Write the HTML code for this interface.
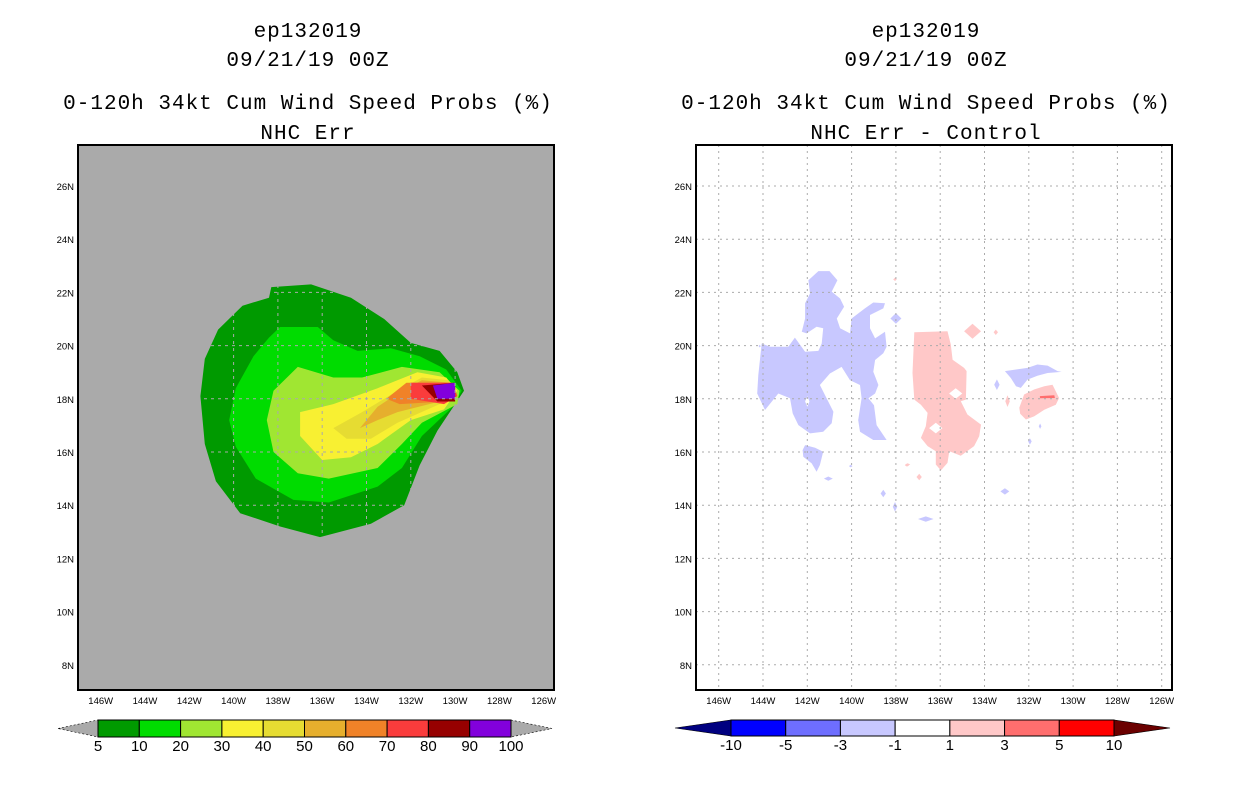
<!DOCTYPE html>
<html><head><meta charset="utf-8">
<style>
html,body{margin:0;padding:0;background:#fff;width:1236px;height:800px;overflow:hidden}
svg{display:block}
.t{font-family:"Liberation Mono",monospace;font-size:21px;fill:#000;letter-spacing:1px}
.tk{font-family:"Liberation Sans",sans-serif;font-size:9.5px;fill:#000}
.cb{font-family:"Liberation Sans",sans-serif;font-size:15px;fill:#000}
</style></head>
<body>
<svg id="svg" width="1236" height="800" viewBox="0 0 1236 800">
<g>
<text class="t" x="308" y="37" text-anchor="middle">ep132019</text>
<text class="t" x="308" y="66" text-anchor="middle">09/21/19 00Z</text>
<text class="t" x="308" y="109" text-anchor="middle">0-120h 34kt Cum Wind Speed Probs (%)</text>
<text class="t" x="308" y="139" text-anchor="middle">NHC Err</text>
</g>
<g>
<text class="t" x="926" y="37" text-anchor="middle">ep132019</text>
<text class="t" x="926" y="66" text-anchor="middle">09/21/19 00Z</text>
<text class="t" x="926" y="109" text-anchor="middle">0-120h 34kt Cum Wind Speed Probs (%)</text>
<text class="t" x="926" y="139" text-anchor="middle">NHC Err - Control</text>
</g>
</svg>
<script>
// ---- data ----
const lonTicks=[146,144,142,140,138,136,134,132,130,128,126];
const latTicks=[26,24,22,20,18,16,14,12,10,8];
const probLevels=[5,10,20,30,40,50,60,70,80,90];
const probColors=["#009a00","#00dc00","#a0e632","#f8f032","#e6dc32","#e6af2d","#f08228","#fa3c3c","#960000","#8200dc"];
const cbLeftLabels=["5","10","20","30","40","50","60","70","80","90","100"];
const diffColors=["#0000ff","#6e6eff","#c8c8ff","#ffffff","#ffc8c8","#ff6e6e","#ff0000"];
const cbRightLabels=["-10","-5","-3","-1","1","3","5","10"];
// contour polygons [lonW, lat]
const p5=[[138.3,22.2],[136.5,22.3],[134.7,21.8],[133.2,21.0],[132.0,20.1],[130.7,19.8],[129.9,19.0],[129.6,18.3],[130.0,17.8],[130.8,16.8],[131.6,15.5],[132.3,14.0],[133.8,13.3],[136.1,12.8],[137.9,13.2],[139.7,13.7],[140.8,14.9],[141.3,16.3],[141.5,18.1],[141.3,19.5],[140.7,20.6],[139.6,21.5],[138.4,21.8]];
const p10=[[137.9,20.7],[136.2,20.7],[135.5,20.2],[134.4,19.8],[132.9,19.9],[131.6,19.6],[130.4,19.1],[129.7,18.3],[130.1,17.7],[131.5,16.6],[132.4,15.4],[133.5,14.7],[135.7,14.1],[137.3,14.2],[139.0,15.0],[139.9,16.2],[140.2,17.2],[139.9,18.4],[139.1,19.6],[138.4,20.3]];
const p20=[[137.1,19.2],[135.5,18.8],[134.2,18.8],[132.4,19.2],[130.7,19.0],[129.8,18.3],[129.9,17.8],[131.5,17.1],[132.4,16.3],[133.5,15.4],[135.7,15.0],[137.1,15.2],[138.2,16.0],[138.5,17.2],[138.2,18.3]];
const p30=[[137.0,17.5],[135.5,17.8],[133.5,18.4],[131.7,19.0],[130.4,18.8],[129.9,18.3],[130.5,17.6],[132.0,17.2],[133.5,16.3],[134.7,15.8],[136.0,15.7],[137.0,16.6]];
const p40=[[135.5,16.9],[134.2,17.5],[132.6,18.3],[131.5,18.8],[130.3,18.7],[130.0,18.2],[130.7,17.8],[132.6,17.1],[133.8,16.5],[134.9,16.5]];
const p50=[[134.3,16.9],[133.5,17.7],[132.4,18.3],[131.5,18.7],[130.2,18.6],[130.0,18.1],[130.7,17.9],[132.6,17.5],[133.5,17.2]];
const p60=[[133.1,18.0],[132.2,18.6],[130.2,18.6],[130.0,18.1],[130.5,17.9],[132.5,17.8]];
const p70=[[132.0,18.6],[130.1,18.6],[129.9,18.1],[130.5,17.8],[132.0,18.0]];
const p80=[[131.5,18.5],[130.0,18.6],[130.0,17.9],[130.8,17.9]];
const p90=[[131.0,18.5],[130.0,18.6],[130.0,18.0],[130.8,18.0]];
const probPolys=[p5,p10,p20,p30,p40,p50,p60,p70,p80,p90];
// difference field polygons
const negBig=[[141.5,22.8],[141.0,22.8],[140.64,22.46],[140.9,22.03],[140.52,21.77],[140.34,21.46],[140.67,21.02],[140.52,20.65],[140.07,20.46],[140.0,21.02],[139.4,21.4],[139.02,21.62],[138.49,21.59],[138.57,21.4],[139.17,21.15],[139.17,20.65],[138.94,20.27],[138.49,20.52],[138.42,19.96],[138.57,19.71],[138.94,19.46],[139.02,19.02],[138.79,18.52],[138.94,18.2],[139.24,18.02],[138.99,17.76],[138.87,17.01],[138.42,16.45],[139.02,16.45],[139.62,16.76],[139.7,17.2],[139.55,18.02],[139.62,18.52],[140.07,18.7],[140.45,19.2],[140.98,18.95],[141.43,18.52],[141.13,18.02],[140.82,17.51],[140.9,17.08],[141.28,16.76],[141.88,16.7],[142.4,17.01],[142.66,17.45],[142.78,18.02],[143.31,18.2],[143.91,17.58],[144.26,18.2],[144.21,18.89],[144.06,20.08],[143.68,19.96],[142.86,19.96],[142.56,20.3],[142.1,19.77],[141.5,19.8],[141.35,20.08],[141.28,20.65],[141.58,20.71],[142.03,20.46],[142.25,20.52],[142.1,21.02],[142.1,21.59],[141.88,21.96],[141.95,22.46]];
const negSmall1=[[142.1,16.26],[141.65,16.16],[141.28,16.01],[141.43,15.51],[141.58,15.26],[141.8,15.57],[142.18,15.82],[142.21,16.07]];
const negSmall2=[[133.08,19.04],[132.06,19.16],[131.61,19.29],[131.15,19.25],[130.7,19.04],[130.52,19.01],[131.15,18.97],[131.61,18.87],[132.06,18.72],[132.36,18.41],[132.58,18.47],[132.81,18.78]];
const posBig=[[137.17,20.5],[135.67,20.54],[135.52,20.04],[135.44,19.47],[134.92,19.16],[134.81,19.04],[134.84,17.97],[135.07,17.91],[134.77,17.41],[134.16,17.03],[134.24,16.59],[134.47,16.22],[135.07,15.86],[135.59,16.03],[135.67,15.59],[135.97,15.31],[136.2,15.53],[136.2,16.03],[136.57,16.22],[136.87,16.53],[136.65,16.97],[136.57,17.47],[136.87,17.78],[137.17,17.97],[137.25,18.97]];
const posRight=[[132.43,17.66],[132.21,18.16],[131.76,18.35],[131.3,18.47],[130.93,18.53],[130.63,18.03],[130.78,17.78],[131.3,17.59],[131.76,17.34],[132.13,17.22],[132.39,17.44]];
const pos3Strip=[[131.5,18.1],[130.85,18.13],[130.82,18.03],[131.5,18.02]];
const negPolys=[negBig,negSmall1,negSmall2];
const posPolys=[posBig,posRight];
// small blobs: [lonW, lat, halfWidthDeg, halfHeightDeg]
const negBlobs=[[141.05,15.0,0.2,0.08],[138.0,21.02,0.25,0.2],[138.57,14.44,0.12,0.14],[138.04,13.94,0.1,0.18],[140.04,15.47,0.08,0.05],[133.44,18.53,0.12,0.2],[131.49,16.97,0.06,0.1],[131.95,16.4,0.08,0.12],[133.08,14.52,0.2,0.12],[136.65,13.48,0.35,0.1],[144.15,19.98,0.05,0.05]];
const posBlobs=[[134.54,20.54,0.38,0.28],[133.49,20.5,0.1,0.1],[132.96,17.91,0.1,0.22],[137.47,15.53,0.12,0.05],[136.95,15.06,0.12,0.12],[138.04,22.49,0.08,0.06],[137.5,15.5,0.1,0.05]];
const whiteHoles=[[136.2,16.9,0.3,0.2],[135.3,18.2,0.3,0.2],[142.0,17.9,0.1,0.2]];

// ---- axes ----
const P0={x0:78,x1:554,y0:145,y1:690,off:0};
const P1={x0:696,x1:1172,y0:145,y1:690,off:618};
function xs(p,lon){return 100.7+(146-lon)*22.15+p.off;}
function ys(lat){return 186+(26-lat)*26.6;}
const NS="http://www.w3.org/2000/svg";
const svg=document.getElementById('svg');
function el(tag,attrs,parent){const e=document.createElementNS(NS,tag);for(const k in attrs)e.setAttribute(k,attrs[k]);(parent||svg).appendChild(e);return e;}
function pts(p,arr){return arr.map(a=>xs(p,a[0]).toFixed(1)+","+ys(a[1]).toFixed(1)).join(" ");}
function blobPts(p,b){const cx=xs(p,b[0]),cy=ys(b[1]),w=b[2]*22.15,h=b[3]*26.6;return [[cx-w,cy],[cx,cy-h],[cx+w,cy],[cx,cy+h]].map(q=>q[0].toFixed(1)+","+q[1].toFixed(1)).join(" ");}

function panel(p,bg,name){
  const g=el('g',{});
  
  
  const cp=el('clipPath',{id:name+'-clip'},g);
  el('rect',{x:p.x0,y:p.y0,width:p.x1-p.x0,height:p.y1-p.y0},cp);
  const bgR=el('rect',{x:p.x0,y:p.y0,width:p.x1-p.x0,height:p.y1-p.y0,fill:bg},g);
  
  
  const inner=el('g',{'clip-path':'url(#'+name+'-clip)'},g);
  return {g,inner};
}
// left
const L=panel(P0,"#aaaaaa","left-map");
probPolys.forEach((poly,i)=>{
  const e=el('polygon',{points:pts(P0,poly),fill:probColors[i]},L.inner);
  
  
});
// right
const R=panel(P1,"#ffffff","right-map");
negPolys.forEach((poly,i)=>{
  const e=el('polygon',{points:pts(P1,poly),fill:diffColors[2]},R.inner);
  
  
});
posPolys.forEach((poly,i)=>{
  const e=el('polygon',{points:pts(P1,poly),fill:diffColors[4]},R.inner);
  
  
});
{const e=el('polygon',{points:pts(P1,pos3Strip),fill:diffColors[5]},R.inner);

}
negBlobs.forEach(b=>{const e=el('polygon',{points:blobPts(P1,b),fill:diffColors[2]},R.inner);

});
posBlobs.forEach(b=>{const e=el('polygon',{points:blobPts(P1,b),fill:diffColors[4]},R.inner);

});
whiteHoles.forEach(b=>{const e=el('polygon',{points:blobPts(P1,b),fill:"#ffffff"},R.inner);

});

function gridAndAxes(p,pan,gridColor,dash){
  lonTicks.forEach(lon=>{const x=xs(p,lon);
    const l=el('line',{x1:x,x2:x,y1:p.y0,y2:p.y1,stroke:gridColor,'stroke-width':1,'stroke-dasharray':dash},pan.inner);
    
    
    const t=el('text',{x:x,y:p.y1+14,'text-anchor':'middle',class:'tk'},pan.g);
    t.textContent=lon+"W";
    
    
  });
  latTicks.forEach(lat=>{const y=ys(lat);
    const l=el('line',{x1:p.x0,x2:p.x1,y1:y,y2:y,stroke:gridColor,'stroke-width':1,'stroke-dasharray':dash},pan.inner);
    
    
    const t=el('text',{x:p.x0-4,y:y+4,'text-anchor':'end',class:'tk'},pan.g);
    t.textContent=lat+"N";
    
    
  });
  const b=el('rect',{x:p.x0,y:p.y0,width:p.x1-p.x0,height:p.y1-p.y0,fill:'none',stroke:'#000','stroke-width':2},pan.g);
  
  
}
gridAndAxes(P0,L,"#aaaaaa","3 4");
gridAndAxes(P1,R,"#ababab","2 4");

// colorbars
function colorbar(name,x0,x1,tipL,tipR,y0,y1,colors,labels,leftTip,rightTip){
  const g=el('g',{});
  
  
  const ym=(y0+y1)/2;
  const tl=el('polygon',{points:`${tipL},${ym} ${x0},${y0} ${x0},${y1}`,fill:leftTip,stroke:'#000','stroke-width':0.6,'stroke-dasharray':leftTip=="#aaaaaa"?'2 2':'none'},g);
  
  
  const tr=el('polygon',{points:`${tipR},${ym} ${x1},${y0} ${x1},${y1}`,fill:rightTip,stroke:'#000','stroke-width':0.6,'stroke-dasharray':rightTip=="#aaaaaa"?'2 2':'none'},g);
  
  
  const w=(x1-x0)/colors.length;
  colors.forEach((c,i)=>{const r=el('rect',{x:x0+i*w,y:y0,width:w,height:y1-y0,fill:c,stroke:'#000','stroke-width':1},g);
    
    });
  labels.forEach((s,i)=>{const t=el('text',{x:x0+i*w,y:y1+14,'text-anchor':'middle',class:'cb'},g);
    t.textContent=s;
    
    });
}
colorbar("left-colorbar",98,511,58,552,720,737,probColors,cbLeftLabels,"#aaaaaa","#aaaaaa");
colorbar("right-colorbar",731,1114,675,1170,720,736,diffColors,cbRightLabels,"#000080","#6b0000");
</script>
</body></html>
